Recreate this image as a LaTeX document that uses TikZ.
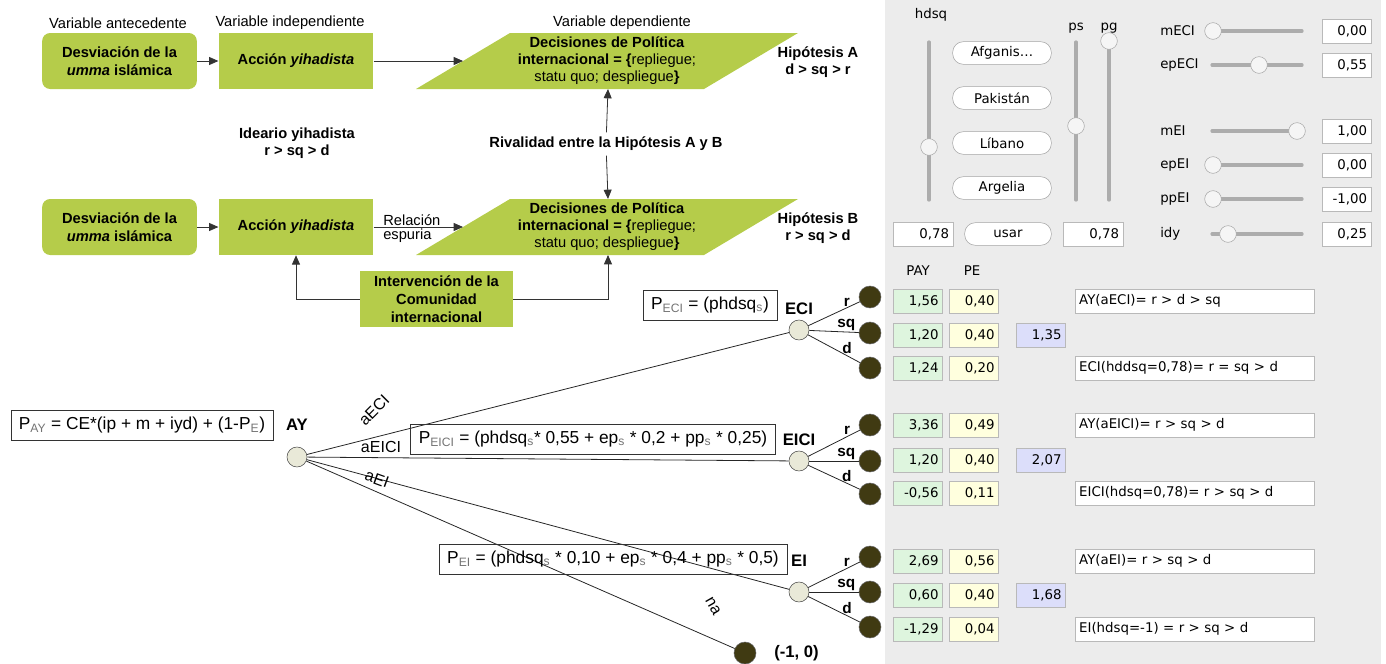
\documentclass[tikz,border=0pt]{standalone}
\usepackage{fontspec}
\setmainfont{Liberation Sans}
\newfontfamily\uifont{DejaVu Sans}
\usetikzlibrary{arrows.meta,positioning}

\definecolor{boxgreen}{RGB}{181,204,74}
\definecolor{panelgray}{RGB}{236,236,236}
\definecolor{paygreen}{RGB}{222,245,222}
\definecolor{peyellow}{RGB}{255,255,222}
\definecolor{avgblue}{RGB}{220,222,250}
\definecolor{nodebeige}{RGB}{233,233,216}
\definecolor{leafdark}{RGB}{64,58,18}

\newcommand{\lowidx}[1]{\textsubscript{\color{black!55}#1}}

\begin{document}
\begin{tikzpicture}[
    x=0.75pt, y=-0.75pt,
    % estilos del esquema
    flow/.style={draw=black!80, line width=0.6pt, -{Triangle[length=7pt,width=6pt]}},
    hdr/.style={font=\fontsize{11}{13}\selectfont},
    antebox/.style={fill=boxgreen, rounded corners=6pt, minimum width=116pt, minimum height=42pt, align=center, font=\fontsize{11}{13.5}\selectfont\bfseries},
    indbox/.style={antebox, rounded corners=0pt},
    dectext/.style={align=center, font=\fontsize{11}{12.8}\selectfont},
    hipo/.style={align=center, font=\fontsize{11}{13}\selectfont\bfseries},
    % estilos del arbol
    branch/.style={draw=black!85, line width=0.6pt},
    choice/.style={circle, draw=black!70, fill=nodebeige, minimum size=15pt, inner sep=0pt},
    leaf/.style={circle, draw=black!60, fill=leafdark, minimum size=16.5pt, inner sep=0pt},
    treelbl/.style={font=\fontsize{12.5}{14}\selectfont\bfseries},
    brlbl/.style={font=\fontsize{11.5}{12}\selectfont\bfseries, inner sep=1pt},
    edgelbl/.style={font=\fontsize{12}{13}\selectfont},
    formula/.style={draw=black!80, font=\fontsize{13}{15}\selectfont, inner xsep=6pt, minimum height=22.5pt},
    % estilos del panel
    uitxt/.style={font=\uifont\fontsize{10}{12}\selectfont},
    track/.style={draw=gray!65, line width=2.4pt, line cap=round},
    knob/.style={circle, draw=gray!70, fill=white!92!gray, minimum size=12.5pt, inner sep=0pt},
    uibutton/.style={uitxt, rounded corners=8pt, draw=gray!70, fill=white, minimum width=74pt, minimum height=17pt},
    uifield/.style={uitxt, draw=gray!55, fill=white, inner xsep=3pt, minimum height=18pt, text width=31pt, align=right},
    wide field/.style={uifield, text width=39pt},
    rank field/.style={uifield, text width=173pt, align=left}
]
\useasboundingbox (0,0) rectangle (1386,664);

% --- panel de control ---
\fill[panelgray] (885,0) rectangle (1381,664);

% --- esquema causal ---
\node[hdr] (var-ante) at (118,23) {Variable antecedente};
\node[hdr] (var-ind) at (290,23) {Variable independiente};
\node[hdr] (var-dep) at (622,23) {Variable dependiente};

\foreach \r/\y in {A/61,B/227} {
    \node[antebox] (dev\r) at (119.5,\y) {Desviación de la\\\textit{umma} islámica};
    \node[indbox] (acc\r) at (296,\y) {Acción \textit{yihadista}};
    \fill[boxgreen] (416,\y+28) -- (704,\y+28) -- (798,\y-28) -- (510,\y-28) -- cycle;
    \node[dectext] (dec\r) at (607,\y) {\textbf{Decisiones de Política}\\\textbf{internacional = \{}repliegue;\\statu quo; despliegue\textbf{\}}};
    \coordinate (dec\r-w) at (463,\y);
    \coordinate (dec\r-n) at (608,\y-28);
    \coordinate (dec\r-s) at (608,\y+28);
    \draw[flow] (dev\r) -- (acc\r);
}

\node[hipo] (hipA) at (818,62) {Hipótesis A\\d > sq > r};
\node[hipo] (hipB) at (818,228) {Hipótesis B\\r > sq > d};
\node[hipo] (ideario) at (297,143) {Ideario yihadista\\r > sq > d};
\node[hipo] (rival) at (606,144) {Rivalidad entre la Hipótesis A y B};
\node[indbox, minimum width=115pt] (interv) at (436.5,299) {Intervención de la\\Comunidad\\internacional};

\draw[flow] (accA) -- (decA-w);
\draw[flow] (accB) -- node[pos=0, anchor=south west, hdr, inner sep=1pt, xshift=6pt] (rel1) {Relación}
                      node[pos=0, anchor=north west, hdr, inner sep=1pt, xshift=6pt] (rel2) {espuria} (decB-w);
\draw[flow] (rival) -- (decA-s);
\draw[flow] (rival) -- (decB-n);
\draw[flow] (interv) -| (accB);
\draw[flow] (interv) -| (decB-s);

% --- arbol de decision ---
\node[choice, label={[treelbl, label distance=9pt]above:AY}] (AY) at (297,457) {};
\node[choice, label={[treelbl, label distance=0pt]above:ECI}] (ECI) at (799,330) {};
\node[choice, label={[treelbl, label distance=0pt]above:EICI}] (EICI) at (799,461) {};
\node[choice, label={[treelbl, label distance=8pt]above:EI}] (EI) at (799,592) {};
\node[leaf, label={[treelbl, label distance=10pt]right:{(-1, 0)}}] (na) at (745,653) {};

\foreach \p/\a/\b/\c in {ECI/297/333/368, EICI/425/461/494, EI/557/592/627} {
    \node[leaf] (\p-r) at (870,\a) {};
    \node[leaf] (\p-sq) at (870,\b) {};
    \node[leaf] (\p-d) at (870,\c) {};
    \draw[branch] (\p) -- node[brlbl, pos=.75, above] (\p-lr) {r} (\p-r);
    \draw[branch] (\p) -- node[brlbl, pos=.75, above] (\p-lsq) {sq} (\p-sq);
    \draw[branch] (\p) -- node[brlbl, pos=.75, above] (\p-ld) {d} (\p-d);
}

\draw[branch] (AY) -- (ECI);
\draw[branch] (AY) -- (EICI);
\draw[branch] (AY) -- (EI);
\draw[branch] (AY) -- (na);

\node[edgelbl, rotate=45] (lbl-aECI) at (374,410) {aECI};
\node[edgelbl] (lbl-aEICI) at (381,447) {aEICI};
\node[edgelbl, rotate=-20] (lbl-aEI) at (377,479) {aEI};
\node[edgelbl, rotate=-60] (lbl-na) at (713,606) {na};

\node[formula] (f-AY) at (142,425) {P\lowidx{AY} = CE*(ip + m + iyd) + (1-P\lowidx{E})};
\node[formula] (f-ECI) at (710,305) {P\lowidx{ECI} = (phdsq\lowidx{s})};
\node[formula] (f-EICI) at (593,439) {P\lowidx{EICI} = (phdsq\lowidx{s}* 0,55 + ep\lowidx{s} * 0,2 + pp\lowidx{s} * 0,25)};
\node[formula] (f-EI) at (613,559) {P\lowidx{EI} = (phdsq\lowidx{s} * 0,10 + ep\lowidx{s} * 0,4 + pp\lowidx{s} * 0,5)};

% --- controles ---
\node[uitxt] (lbl-hdsq) at (931,15) {hdsq};
\node[uitxt] (lbl-ps) at (1076,28) {ps};
\node[uitxt] (lbl-pg) at (1109,28) {pg};
\foreach \x/\k/\nm in {929/147/hdsq, 1076/126/ps, 1109/41/pg} {
    \draw[track] (\x,42) -- (\x,200);
    \node[knob] (knob-\nm) at (\x,\k) {};
}
\node[uibutton] (btn-53) at (1002,53) {Afganis\ldots};
\foreach \nm/\y in {Pakistán/98, Líbano/143, Argelia/188}
    \node[uibutton] (btn-\y) at (1002,\y) {\nm};
\node[uibutton, minimum width=65pt] (btn-usar) at (1008,234) {usar};
\node[wide field] (fld-left) at (923,234) {0,78};
\node[wide field] (fld-right) at (1093,234) {0,78};

\foreach \nm/\y/\k/\v in {mECI/31/1213/{0,00}, epECI/65/1259/{0,55}, mEI/131/1297/{1,00},
                           epEI/165/1213/{0,00}, ppEI/199/1213/{-1,00}, idy/234/1228/{0,25}} {
    \node[uitxt, anchor=west, inner sep=0pt] (lbl-\nm) at (1160,\y) {\nm};
    \draw[track] (1212,\y) -- (1302,\y);
    \node[knob] (knob-\nm) at (\k,\y) {};
    \node[uifield] (val-\nm) at (1346.5,\y) {\v};
}

% --- tabla de pagos ---
\node[uitxt] (hd-pay) at (918,271) {PAY};
\node[uitxt] (hd-pe) at (972,271) {PE};
\foreach \y/\pay/\pe in {301/{1,56}/{0,40}, 335/{1,20}/{0,40}, 368/{1,24}/{0,20},
                         425/{3,36}/{0,49}, 460/{1,20}/{0,40}, 493/{-0,56}/{0,11},
                         561/{2,69}/{0,56}, 595/{0,60}/{0,40}, 629/{-1,29}/{0,04}} {
    \node[uifield, fill=paygreen] (pay-\y) at (918,\y) {\pay};
    \node[uifield, fill=peyellow] (pe-\y) at (974,\y) {\pe};
}
\foreach \y/\v in {335/{1,35}, 460/{2,07}, 595/{1,68}}
    \node[uifield, fill=avgblue] (avg-\y) at (1041,\y) {\v};
\foreach \y/\t in {301/{AY(aECI)= r > d > sq}, 368/{ECI(hddsq=0,78)= r = sq > d},
                   425/{AY(aEICI)= r > sq > d}, 493/{EICI(hdsq=0,78)= r > sq > d},
                   561/{AY(aEI)= r > sq > d}, 629/{EI(hdsq=-1) = r > sq > d}}
    \node[rank field] (rank-\y) at (1194.5,\y) {\t};

\end{tikzpicture}
\end{document}
